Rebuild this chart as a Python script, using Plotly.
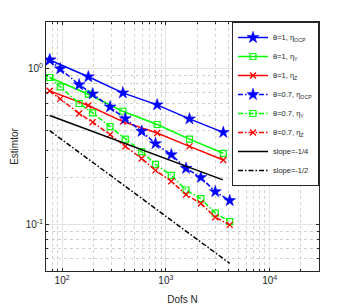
import plotly.graph_objects as go

# ---- data ----
N_theta1 = [76, 179, 385, 824, 1686, 3575]
ocp_theta1 = [1.14, 0.888, 0.70, 0.586, 0.476, 0.39]
y_theta1 = [0.879, 0.686, 0.533, 0.438, 0.353, 0.286]
z_theta1 = [0.721, 0.58, 0.457, 0.386, 0.317, 0.259]

N_theta07 = [76, 96, 146, 197, 290, 406, 584, 794, 1127, 1564, 2171, 2990, 4120]
ocp_theta07 = [1.14, 1.0, 0.789, 0.69, 0.569, 0.478, 0.396, 0.33, 0.28, 0.229, 0.2, 0.162, 0.142]
y_theta07 = [0.879, 0.765, 0.598, 0.52, 0.425, 0.353, 0.293, 0.243, 0.206, 0.166, 0.146, 0.118, 0.104]
z_theta07 = [0.721, 0.64, 0.515, 0.453, 0.377, 0.317, 0.265, 0.222, 0.189, 0.155, 0.136, 0.111, 0.099]

slope14_N = [76, 3540]
slope14_val = [0.5, 0.193]
slope12_N = [76, 4120]
slope12_val = [0.4, 0.056]

x_tickvals = [100, 1000, 10000]
x_ticktext = ["10<sup>2</sup>", "10<sup>3</sup>", "10<sup>4</sup>"]
x_minor = [80, 90] + [k * 100 for k in range(2, 10)] + [k * 1000 for k in range(2, 10)] + [20000, 30000]
y_tickvals = [0.1, 1]
y_ticktext = ["10<sup>-1</sup>", "10<sup>0</sup>"]
y_minor = [0.05, 0.06, 0.07, 0.08, 0.09] + [k / 10 for k in range(2, 10)] + [2]

BLUE = "#0000ff"
GREEN = "#00ff00"
RED = "#ff0000"
DASHDOT = "5px,2px,1.5px,2px"
FONT = "Liberation Sans, Arial, sans-serif"

fig = go.Figure()

def add(x, y, name, color, symbol, msize, dash, mline=1.2):
    fig.add_trace(go.Scatter(
        x=x, y=y, name=name, mode="lines+markers",
        line=dict(color=color, width=1.5, dash=dash),
        marker=dict(symbol=symbol, size=msize, color=color,
                    line=dict(color=color, width=mline)),
    ))

add(N_theta1, ocp_theta1, "θ=1, η<sub>OCP</sub>", BLUE, "star", 9, "solid", 0.5)
add(N_theta1, y_theta1, "θ=1, η<sub>Y</sub>", GREEN, "square-open", 6, "solid")
add(N_theta1, z_theta1, "θ=1, η<sub>Z</sub>", RED, "x-thin-open", 6, "solid", 1.3)
add(N_theta07, ocp_theta07, "θ=0.7, η<sub>OCP</sub>", BLUE, "star", 9, DASHDOT, 0.5)
add(N_theta07, y_theta07, "θ=0.7, η<sub>Y</sub>", GREEN, "square-open", 6, DASHDOT)
add(N_theta07, z_theta07, "θ=0.7, η<sub>Z</sub>", RED, "x-thin-open", 6, DASHDOT, 1.3)

fig.add_trace(go.Scatter(x=slope14_N, y=slope14_val, name="slope=-1/4", mode="lines",
                         line=dict(color="black", width=1.5)))
fig.add_trace(go.Scatter(x=slope12_N, y=slope12_val, name="slope=-1/2", mode="lines",
                         line=dict(color="black", width=1.5, dash=DASHDOT)))

axis_common = dict(
    type="log",
    showline=True, linecolor="#262626", linewidth=1, mirror="allticks",
    ticks="inside", ticklen=3, tickcolor="#262626", tickwidth=0.8,
    showgrid=True, gridcolor="#e3e3e3", gridwidth=1,
    zeroline=False,
    tickfont=dict(family=FONT, size=10, color="#262626"),
)

fig.update_xaxes(**axis_common, automargin=False, range=[1.845, 4.475],
                 tickmode="array", tickvals=x_tickvals, ticktext=x_ticktext,
                 minor=dict(tickmode="array", tickvals=x_minor, showgrid=True,
                            gridcolor="#d2d2d2", griddash="dot", gridwidth=0.7,
                            ticks="inside", ticklen=2, tickcolor="#262626", tickwidth=0.6),
                 title=dict(text="Dofs N", font=dict(family=FONT, size=10, color="#262626")))
fig.update_yaxes(**axis_common, automargin=True, range=[-1.301, 0.301],
                 tickmode="array", tickvals=y_tickvals, ticktext=y_ticktext,
                 minor=dict(tickmode="array", tickvals=y_minor, showgrid=True,
                            gridcolor="#d2d2d2", griddash="dot", gridwidth=0.7,
                            ticks="inside", ticklen=2, tickcolor="#262626", tickwidth=0.6),
                 title=dict(text="Estimtor", standoff=5,
                            font=dict(family=FONT, size=10, color="#262626")))

fig.update_layout(
    width=354, height=305,
    margin=dict(l=46, r=35, t=22, b=34, pad=0),
    paper_bgcolor="white", plot_bgcolor="white",
    showlegend=True,
    legend=dict(x=1, y=1, xanchor="right", yanchor="top",
                bgcolor="white", bordercolor="#262626", borderwidth=1,
                font=dict(family=FONT, size=7.5, color="#262626"),
                itemwidth=30, tracegroupgap=0,
                itemsizing="trace"),
)

fig.write_html("out.html",
               config={"displayModeBar": False},
               post_script="document.body.style.margin='0';document.body.style.overflow='hidden';")
